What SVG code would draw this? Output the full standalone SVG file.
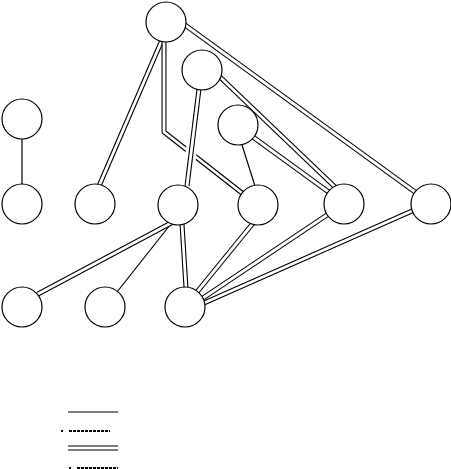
<svg xmlns="http://www.w3.org/2000/svg" xmlns:xlink="http://www.w3.org/1999/xlink" width="451" height="469" viewBox="0 0 451 469">
<style>
.node circle{fill:#fff;stroke:#000;stroke-width:1.2}
.o{fill:none;stroke:#000;stroke-width:5;stroke-linejoin:round}
.i{fill:none;stroke:#fff;stroke-width:2.8;stroke-linejoin:round}
.halo{fill:none;stroke:#fff;stroke-width:11}
.s{fill:none;stroke:#000;stroke-width:1.2}
.dash{fill:none;stroke:#000;stroke-width:2;stroke-dasharray:3,1}
</style>
<defs>
<path id="eAF" d="M162,40 L99,186"/>
<path id="eAH" d="M164,42 L164,132 L242,193"/>
<path id="eAJ" d="M185,25 L415,192"/>
<path id="eBG" d="M199,89 L187,186"/>
<path id="eBI" d="M220,77 L335,187"/>
<path id="eCI" d="M253,137 L330,193"/>
<path id="eGK" d="M173,222 L38,294"/>
<path id="eGM" d="M182,224 L186,288"/>
<path id="eHM" d="M254,222 L197,292"/>
<path id="eIM" d="M327,215 L203,298"/>
<path id="eJM" d="M412,211 L204,303"/>
</defs>
<rect width="451" height="469" fill="#fff"/>
<g id="connectors">
<path class="s" d="M22,139 L22,184"/>
<path class="s" d="M242,145 L255,186"/>
<path class="s" d="M170,225 L117,292"/>
<use href="#eAF" class="o"/><use href="#eAF" class="i"/>
<use href="#eAH" class="o"/><use href="#eAH" class="i"/>
<use href="#eAJ" class="o"/><use href="#eAJ" class="i"/>
<use href="#eBG" class="halo"/><use href="#eBG" class="o"/><use href="#eBG" class="i"/>
<use href="#eBI" class="o"/><use href="#eBI" class="i"/>
<use href="#eCI" class="o"/><use href="#eCI" class="i"/>
<use href="#eGK" class="o"/><use href="#eGK" class="i"/>
<use href="#eGM" class="o"/><use href="#eGM" class="i"/>
<use href="#eHM" class="o"/><use href="#eHM" class="i"/>
<use href="#eIM" class="o"/><use href="#eIM" class="i"/>
<use href="#eJM" class="o"/><use href="#eJM" class="i"/>
</g>
<g id="nA" class="node"><circle cx="166" cy="22" r="20"/></g>
<g id="nB" class="node"><circle cx="202" cy="70" r="20"/></g>
<g id="nC" class="node"><circle cx="238" cy="125" r="20"/></g>
<g id="nD" class="node"><circle cx="22" cy="119" r="20"/></g>
<g id="nE" class="node"><circle cx="22" cy="204" r="20"/></g>
<g id="nF" class="node"><circle cx="95" cy="204" r="20"/></g>
<g id="nG" class="node"><circle cx="178" cy="205" r="20"/></g>
<g id="nH" class="node"><circle cx="258" cy="205" r="20"/></g>
<g id="nI" class="node"><circle cx="344" cy="204" r="20"/></g>
<g id="nJ" class="node"><circle cx="431" cy="204" r="20"/></g>
<g id="nK" class="node"><circle cx="22" cy="307" r="20"/></g>
<g id="nL" class="node"><circle cx="105" cy="307" r="20"/></g>
<g id="nM" class="node"><circle cx="185" cy="307" r="20"/></g>
<g id="legend">
<path class="s" d="M68,412 L118,412"/>
<path class="dash" d="M61,431 L63,431 M69,431 L110,431"/>
<path class="s" d="M68,446 L118,446 M68,450 L118,450"/>
<path class="dash" d="M69,468 L71,468 M77,468 L118,468"/>
</g>
</svg>
